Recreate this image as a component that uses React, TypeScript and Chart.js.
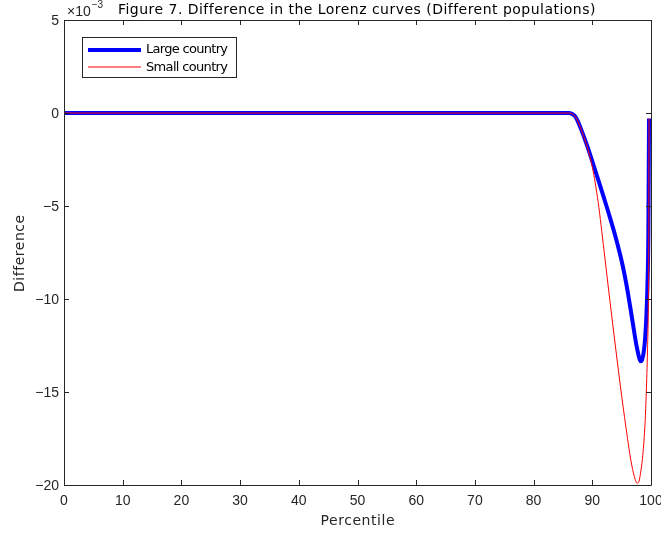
import React, { useEffect, useRef } from "react";
import { Chart, registerables } from "chart.js";

Chart.register(...registerables);

const largePct = [0, 10, 20, 30, 40, 50, 60, 70, 80, 85, 86, 86.5, 87, 87.5, 88, 89, 90, 91, 92, 93, 94, 95, 95.5, 96, 96.5, 97, 97.5, 97.9, 98.2, 98.5, 98.8, 99.0, 99.2, 99.4, 99.55, 99.66];
const largeCountry = [0, 0, 0, 0, 0, 0, 0, 0, 0, 0, 0, -0.04, -0.15, -0.42, -0.8, -1.65, -2.6, -3.58, -4.58, -5.61, -6.71, -7.96, -8.7, -9.55, -10.5, -11.5, -12.45, -13.05, -13.35, -13.25, -12.75, -12.1, -11.0, -9.2, -6.5, -0.3];
const smallPct = [0, 10, 20, 30, 40, 50, 60, 70, 80, 85, 86, 86.5, 87, 87.5, 88, 89, 90, 91, 92, 93, 94, 95, 96, 96.5, 97, 97.3, 97.6, 97.9, 98.2, 98.6, 99.0, 99.2, 99.4, 99.55, 99.62, 99.66];
const smallCountry = [0, 0, 0, 0, 0, 0, 0, 0, 0, 0, 0, -0.04, -0.15, -0.42, -0.8, -1.7, -2.9, -4.8, -7.4, -10.1, -12.7, -15.2, -17.5, -18.55, -19.35, -19.7, -19.9, -19.85, -19.4, -18.4, -16.6, -15.0, -12.8, -10.3, -7.0, -0.3];
const xTicks = [0, 10, 20, 30, 40, 50, 60, 70, 80, 90, 100];
const yTicks = [-20, -15, -10, -5, 0, 5];
const seriesNames = ["Large country", "Small country"];
const titleText = "Figure 7. Difference in the Lorenz curves (Different populations)";
const xLabel = "Percentile";
const yLabel = "Difference";

const TICK_FONT = "'Liberation Sans', Arial, sans-serif";
const TEXT_FONT = "'DejaVu Sans', sans-serif";
const AXIS_COLOR = "#262626";

function fitText(ctx: CanvasRenderingContext2D, text: string, cx: number, y: number, width: number) {
  (ctx as any).letterSpacing = "0px";
  const w0 = ctx.measureText(text).width;
  const ls = text.length > 1 ? (width - w0) / (text.length - 1) : 0;
  (ctx as any).letterSpacing = `${ls}px`;
  ctx.textAlign = "left";
  ctx.fillText(text, cx - width / 2, y);
  (ctx as any).letterSpacing = "0px";
}

const decorPlugin = {
  id: "decor",
  afterDraw(chart: any) {
    const { ctx, chartArea } = chart;
    const { left, right, top, bottom } = chartArea;
    const xs = chart.scales.x;
    const ys = chart.scales.y;
    ctx.save();
    ctx.strokeStyle = AXIS_COLOR;
    ctx.lineWidth = 1;
    ctx.beginPath();
    ctx.rect(Math.round(left) + 0.5, Math.round(top) + 0.5, Math.round(right - left), Math.round(bottom - top));
    ctx.stroke();
    const tl = 5;
    ctx.beginPath();
    for (const t of xTicks) {
      const px = Math.round(xs.getPixelForValue(t)) + 0.5;
      ctx.moveTo(px, bottom);
      ctx.lineTo(px, bottom - tl);
      ctx.moveTo(px, top);
      ctx.lineTo(px, top + tl);
    }
    for (const t of yTicks) {
      const py = Math.round(ys.getPixelForValue(t)) + 0.5;
      ctx.moveTo(left, py);
      ctx.lineTo(left + tl, py);
      ctx.moveTo(right, py);
      ctx.lineTo(right - tl, py);
    }
    ctx.stroke();

    // tick labels
    ctx.fillStyle = AXIS_COLOR;
    ctx.font = `14px ${TICK_FONT}`;
    ctx.textBaseline = "middle";
    ctx.textAlign = "center";
    for (const t of xTicks) {
      ctx.fillText(String(t), xs.getPixelForValue(t), 501);
    }
    ctx.textAlign = "right";
    for (const t of yTicks) {
      ctx.fillText(String(t).replace("-", "\u2212"), 59, ys.getPixelForValue(t) + 1);
    }

    // title
    ctx.fillStyle = "#000";
    ctx.font = `14px ${TEXT_FONT}`;
    fitText(ctx, titleText, 356.5, 10, 477);

    // exponent label
    ctx.fillStyle = AXIS_COLOR;
    ctx.textAlign = "left";
    ctx.font = `14px ${TICK_FONT}`;
    ctx.fillText("\u00d710", 67, 12);
    const w = ctx.measureText("\u00d710").width;
    ctx.font = `10px ${TICK_FONT}`;
    ctx.fillText("\u22123", 67 + w + 1, 5);

    // axis titles
    ctx.font = `14px ${TEXT_FONT}`;
    fitText(ctx, xLabel, 357.5, 521, 74);
    ctx.save();
    ctx.translate(20, 253.5);
    ctx.rotate(-Math.PI / 2);
    fitText(ctx, yLabel, 0, 0, 77);
    ctx.restore();

    // legend
    const bx = 82.5, by = 37.5, bw = 154, bh = 40;
    ctx.fillStyle = "#fff";
    ctx.fillRect(bx, by, bw, bh);
    ctx.strokeStyle = AXIS_COLOR;
    ctx.lineWidth = 1;
    ctx.strokeRect(bx, by, bw, bh);
    ctx.lineCap = "butt";
    ctx.strokeStyle = "#0000ff";
    ctx.lineWidth = 4;
    ctx.beginPath();
    ctx.moveTo(88, 50);
    ctx.lineTo(141, 50);
    ctx.stroke();
    ctx.strokeStyle = "#ff0000";
    ctx.lineWidth = 1;
    ctx.beginPath();
    ctx.moveTo(88, 67);
    ctx.lineTo(141, 67);
    ctx.stroke();
    ctx.fillStyle = "#000";
    ctx.font = `13px ${TEXT_FONT}`;
    fitText(ctx, seriesNames[0], 146 + 41, 50, 82);
    fitText(ctx, seriesNames[1], 146 + 41, 67.5, 82);
    ctx.restore();
  },
};

export default function App() {
  const ref = useRef<HTMLCanvasElement>(null);
  useEffect(() => {
    document.body.style.margin = "0";
    const canvas = ref.current!;
    const chart = new Chart(canvas, {
      type: "line",
      data: {
        datasets: [
          {
            label: seriesNames[0],
            data: largePct.map((p, i) => ({ x: p, y: largeCountry[i] })),
            borderColor: "#0000ff",
            borderWidth: 4,
            pointRadius: 0,
            cubicInterpolationMode: "monotone",
            fill: false,
            order: 1,
          },
          {
            label: seriesNames[1],
            data: smallPct.map((p, i) => ({ x: p, y: smallCountry[i] })),
            borderColor: "#ff0000",
            borderWidth: 1,
            pointRadius: 0,
            cubicInterpolationMode: "monotone",
            fill: false,
            order: 0,
          },
        ],
      },
      options: {
        animation: false,
        responsive: false,
        maintainAspectRatio: false,
        layout: { padding: { top: 20, right: 10, left: 0, bottom: 0 } },
        plugins: { legend: { display: false }, tooltip: { enabled: false }, title: { display: false } },
        scales: {
          x: {
            type: "linear",
            min: 0,
            max: 100,
            afterFit: (s: any) => { s.height = 48; s.paddingLeft = 0; s.paddingRight = 0; },
            grid: { display: false, drawTicks: false },
            border: { display: false },
            ticks: { display: false },
          },
          y: {
            type: "linear",
            min: -20,
            max: 5,
            afterFit: (s: any) => { s.width = 64; s.paddingTop = 0; s.paddingBottom = 0; },
            grid: { display: false, drawTicks: false },
            border: { display: false },
            ticks: { display: false },
          },
        },
      },
      plugins: [decorPlugin],
    });
    return () => chart.destroy();
  }, []);
  return (
    <div style={{ width: 661, height: 533 }}>
      <canvas ref={ref} width={661} height={533} style={{ display: "block" }} />
    </div>
  );
}
